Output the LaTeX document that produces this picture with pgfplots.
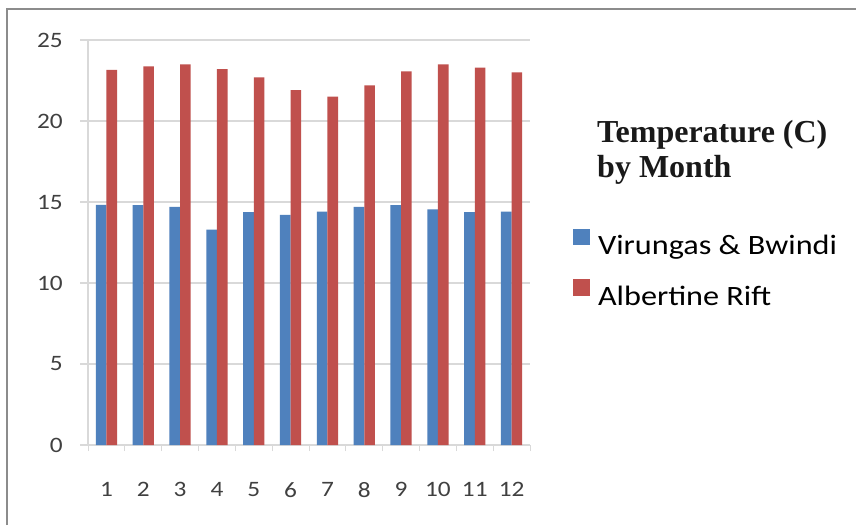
\documentclass[border=0pt]{standalone}
\usepackage{pgfplots}
\pgfplotsset{compat=1.18}
\usepackage{fontspec}
\setsansfont{Carlito}[FakeStretch=1.15]
\newfontfamily\titlefont{Liberation Serif}
\definecolor{xlblue}{HTML}{4F81BD}
\definecolor{xlred}{HTML}{C0504D}
\definecolor{gridc}{HTML}{D9D9D9}
\definecolor{tickc}{HTML}{404040}
\definecolor{framec}{HTML}{8C8C8C}
\begin{document}
\begin{tikzpicture}[x=1pt,y=1pt]
\useasboundingbox (0,0) rectangle (856,525);
\fill[white] (0,0) rectangle (856,525);
\draw[framec, line width=2pt] (7,0) -- (7,516) -- (856,516);
\begin{axis}[
  at={(88pt,80pt)}, anchor=south west,
  scale only axis, width=442pt, height=405pt,
  xmin=0.5, xmax=12.5, ymin=0, ymax=25,
  ybar=0pt, bar width=10.6pt,
  xtick={1,...,12},
  minor xtick={0.5,1.5,...,12.5},
  ytick={0,5,...,25},
  ymajorgrids, grid style={gridc, line width=1.3pt},
  axis x line*=bottom, axis y line*=left,
  axis line style={gridc, line width=1.3pt, -},
  tick align=outside,
  major tick length=8pt, minor tick length=6pt,
  major x tick style={draw=none},
  minor x tick style={gridc, line width=1pt},
  ytick style={gridc, line width=1.3pt},
  /pgf/number format/assume math mode=true,
  ticklabel style={font=\sffamily\fontsize{22}{26}\selectfont, text=tickc},
  yticklabel style={inner sep=0pt, xshift=-17pt},
  xticklabel style={inner sep=0pt, yshift=-29pt},
  legend style={at={(rel axis cs:1.097,0.534)}, anchor=north west,
    draw=none, fill=none, inner sep=0pt,
    font=\sffamily\fontsize{28}{32}\selectfont, text=black,
    nodes={inner sep=0pt}, row sep=23pt},
  legend cell align=left,
  legend image code/.code={\fill[#1, draw=none] (0pt,0.5pt) rectangle (17pt,17pt); \path (25pt,0pt);},
]
\addplot[fill=xlblue, draw=none] coordinates {
(1,14.83) (2,14.8) (3,14.7) (4,13.3) (5,14.37) (6,14.2)
(7,14.4) (8,14.7) (9,14.8) (10,14.55) (11,14.37) (12,14.4)};
\addplot[fill=xlred, draw=none] coordinates {
(1,23.16) (2,23.37) (3,23.5) (4,23.2) (5,22.7) (6,21.9)
(7,21.5) (8,22.2) (9,23.06) (10,23.5) (11,23.3) (12,23.0)};
\legend{Virungas \& Bwindi, Albertine Rift}
\end{axis}
\node[anchor=base west, inner sep=0pt, align=left, text=black!90,
  font=\titlefont\bfseries\fontsize{32}{35}\selectfont] at (597,347)
  {Temperature (C)\\by Month};
\end{tikzpicture}
\end{document}
